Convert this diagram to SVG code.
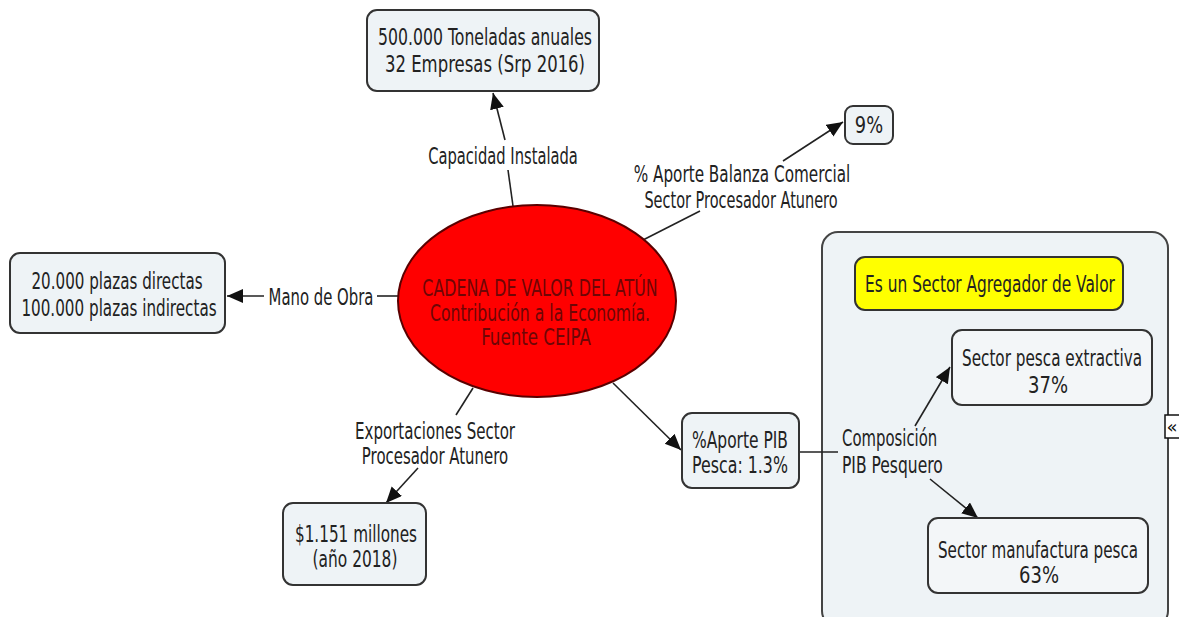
<svg xmlns="http://www.w3.org/2000/svg" width="1179" height="617" viewBox="0 0 1179 617">
<defs>
<marker id="arr" markerUnits="userSpaceOnUse" markerWidth="18" markerHeight="16" refX="16" refY="7" orient="auto">
<path d="M0,0 L16,7 L0,14 z" fill="#111"/>
</marker>
<style>
.box{fill:#eef3f6;stroke:#333;stroke-width:2}
.t{font-family:"DejaVu Sans","Liberation Sans",sans-serif;font-size:23px;fill:#222;text-anchor:middle}
.s{text-anchor:start}
.r{fill:#6e0606}
.c{stroke:#222;stroke-width:1.6;fill:none}
</style>
</defs>
<rect width="1179" height="617" fill="#fff"/>

<g id="grupo">
<rect x="822" y="232" width="346" height="395" rx="16" fill="#eef3f6" stroke="#444" stroke-width="2"/>
</g>

<g id="conectores">
<line class="c" x1="513" y1="206" x2="508" y2="170"/>
<line class="c" x1="505" y1="140" x2="493" y2="93" marker-end="url(#arr)"/>
<line class="c" x1="643" y1="240" x2="700" y2="211"/>
<line class="c" x1="783" y1="161" x2="843" y2="122" marker-end="url(#arr)"/>
<line class="c" x1="398" y1="296" x2="377" y2="296"/>
<line class="c" x1="264" y1="296" x2="227" y2="296" marker-end="url(#arr)"/>
<line class="c" x1="473" y1="388" x2="456" y2="415"/>
<line class="c" x1="418" y1="468" x2="386" y2="503" marker-end="url(#arr)"/>
<line class="c" x1="613" y1="383" x2="681" y2="450" marker-end="url(#arr)"/>
<line class="c" x1="799" y1="452" x2="838" y2="452"/>
<line class="c" x1="915" y1="426" x2="950" y2="367" marker-end="url(#arr)"/>
<line class="c" x1="930" y1="479" x2="978" y2="518" marker-end="url(#arr)"/>
</g>

<g id="capacidad-valor">
<rect class="box" x="367" y="10" width="232" height="81" rx="10"/>
<text class="t" transform="matrix(0.69 0 0 1 485 45)" textLength="310" lengthAdjust="spacingAndGlyphs">500.000 Toneladas anuales</text>
<text class="t" transform="matrix(0.69 0 0 1 485 72)" textLength="290" lengthAdjust="spacingAndGlyphs">32 Empresas (Srp 2016)</text>
</g>

<g id="lbl-capacidad">
<text class="t" transform="matrix(0.69 0 0 1 503 164)" textLength="217" lengthAdjust="spacingAndGlyphs">Capacidad Instalada</text>
</g>

<g id="nueve">
<rect class="box" x="845" y="106" width="48" height="38" rx="8"/>
<text class="t" transform="matrix(0.69 0 0 1 869 133)" textLength="41" lengthAdjust="spacingAndGlyphs">9%</text>
</g>

<g id="lbl-balanza">
<text class="t" transform="matrix(0.69 0 0 1 742 182)" textLength="314" lengthAdjust="spacingAndGlyphs">% Aporte Balanza Comercial</text>
<text class="t" transform="matrix(0.69 0 0 1 741 208)" textLength="280" lengthAdjust="spacingAndGlyphs">Sector Procesador Atunero</text>
</g>

<g id="centro">
<ellipse cx="537" cy="301" rx="139" ry="96" fill="#ff0000" stroke="#5a0000" stroke-width="2"/>
<text class="t r" transform="matrix(0.69 0 0 1 540 296)" textLength="341" lengthAdjust="spacingAndGlyphs">CADENA DE VALOR DEL ATÚN</text>
<text class="t r" transform="matrix(0.69 0 0 1 540 321)" textLength="319" lengthAdjust="spacingAndGlyphs">Contribución a la Economía.</text>
<text class="t r" transform="matrix(0.69 0 0 1 536 345)" textLength="159" lengthAdjust="spacingAndGlyphs">Fuente CEIPA</text>
</g>

<g id="plazas">
<rect class="box" x="10" y="253" width="215" height="80" rx="10"/>
<text class="t" transform="matrix(0.69 0 0 1 117 289)" textLength="248" lengthAdjust="spacingAndGlyphs">20.000 plazas directas</text>
<text class="t" transform="matrix(0.69 0 0 1 119 316)" textLength="283" lengthAdjust="spacingAndGlyphs">100.000 plazas indirectas</text>
</g>

<g id="lbl-mano">
<text class="t" transform="matrix(0.69 0 0 1 321 305)" textLength="152" lengthAdjust="spacingAndGlyphs">Mano de Obra</text>
</g>

<g id="lbl-export">
<text class="t" transform="matrix(0.69 0 0 1 435 439)" textLength="232" lengthAdjust="spacingAndGlyphs">Exportaciones Sector</text>
<text class="t" transform="matrix(0.69 0 0 1 435 464)" textLength="212" lengthAdjust="spacingAndGlyphs">Procesador Atunero</text>
</g>

<g id="millones">
<rect class="box" x="283" y="503" width="143" height="82" rx="10"/>
<text class="t" transform="matrix(0.69 0 0 1 356 542)" textLength="177" lengthAdjust="spacingAndGlyphs">$1.151 millones</text>
<text class="t" transform="matrix(0.69 0 0 1 355 567)" textLength="123" lengthAdjust="spacingAndGlyphs">(año 2018)</text>
</g>

<g id="pib">
<rect class="box" x="682" y="413" width="117" height="75" rx="10"/>
<text class="t" transform="matrix(0.69 0 0 1 740 448)" textLength="139" lengthAdjust="spacingAndGlyphs">%Aporte PIB</text>
<text class="t" transform="matrix(0.69 0 0 1 740 473)" textLength="139" lengthAdjust="spacingAndGlyphs">Pesca: 1.3%</text>
</g>

<g id="lbl-composicion">
<text class="t s" transform="matrix(0.69 0 0 1 842 446)" textLength="138" lengthAdjust="spacingAndGlyphs">Composición</text>
<text class="t s" transform="matrix(0.69 0 0 1 842 473)" textLength="146" lengthAdjust="spacingAndGlyphs">PIB Pesquero</text>
</g>

<g id="agregador">
<rect x="855" y="257" width="268" height="53" rx="10" fill="#ffff00" stroke="#333" stroke-width="2"/>
<text class="t" transform="matrix(0.69 0 0 1 990 292)" textLength="362" lengthAdjust="spacingAndGlyphs">Es un Sector Agregador de Valor</text>
</g>

<g id="extractiva">
<rect class="box" x="952" y="330" width="200" height="75" rx="10" style="fill:#f3f6f8"/>
<text class="t" transform="matrix(0.69 0 0 1 1052 366)" textLength="261" lengthAdjust="spacingAndGlyphs">Sector pesca extractiva</text>
<text class="t" transform="matrix(0.69 0 0 1 1048 393)" textLength="58" lengthAdjust="spacingAndGlyphs">37%</text>
</g>

<g id="manufactura">
<rect class="box" x="928" y="518" width="220" height="75" rx="10" style="fill:#f3f6f8"/>
<text class="t" transform="matrix(0.69 0 0 1 1038 558)" textLength="290" lengthAdjust="spacingAndGlyphs">Sector manufactura pesca</text>
<text class="t" transform="matrix(0.69 0 0 1 1039 583)" textLength="58" lengthAdjust="spacingAndGlyphs">63%</text>
</g>

<g id="colapsar">
<rect x="1165" y="415" width="16" height="23" fill="#fff" stroke="#111" stroke-width="1.5"/>
<text x="1172" y="433" font-family="DejaVu Sans, sans-serif" font-size="18" fill="#111" text-anchor="middle">«</text>
</g>
</svg>
